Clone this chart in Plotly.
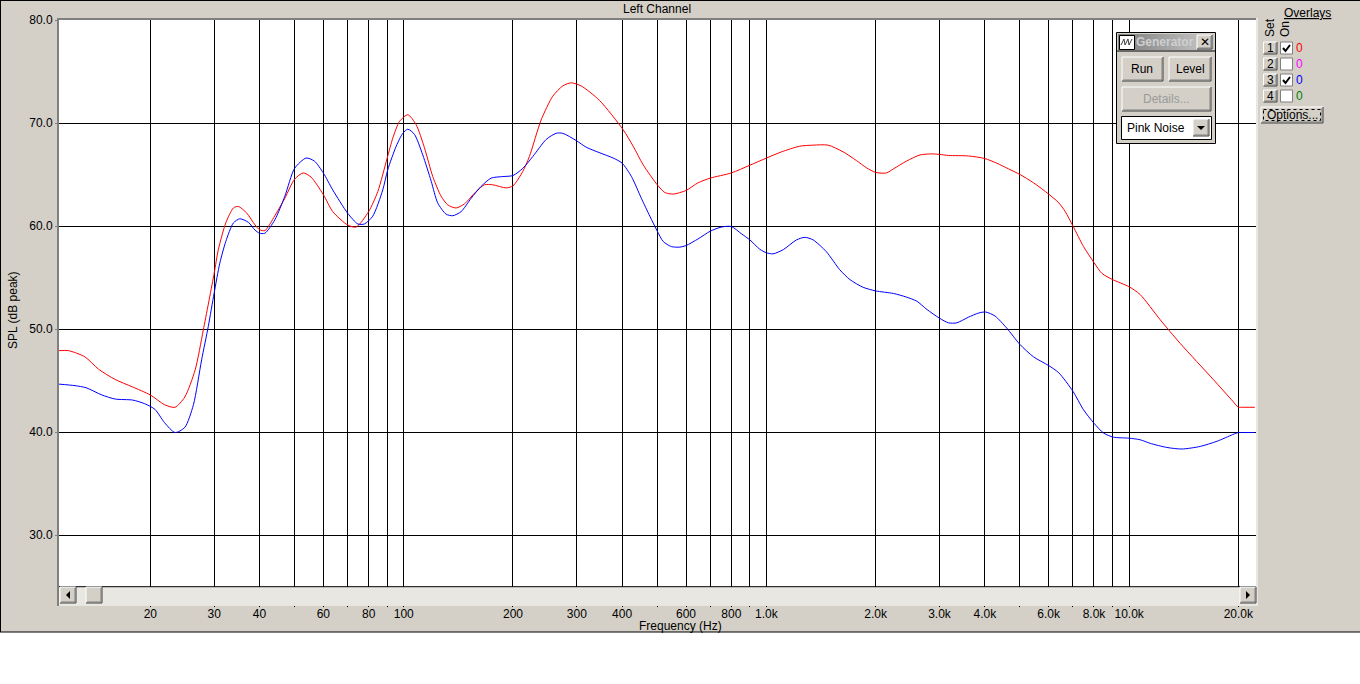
import plotly.graph_objects as go

# values
freq_red = [11.2, 11.9, 13.2, 14.4, 16.0, 17.8, 20, 21.9, 23.4, 24.9, 26.6, 28.0, 30, 30.8, 32.3, 33.9, 35.0, 36.9,
            38.9, 40, 41.4, 44.1, 47.0, 50, 52.8, 55.5, 60, 63.7, 70, 73.9, 80, 84.8, 90, 93.3, 97.3, 102.6, 108.1,
            114, 120.2, 126.7, 132.2, 139.4, 147, 158.3, 166.9, 176, 191.5, 200, 212.9, 222, 239.2, 257.5, 274.4,
            289.4, 308.3, 346.3, 402.5, 428.9, 457, 500, 524.6, 553, 600, 648, 700, 800, 900, 1000, 1100.8, 1236,
            1345, 1479, 1627, 1771, 1887, 2000, 2142, 2240, 2432, 2652, 2857, 3000, 3176, 3606, 4000, 4316, 4648,
            5000, 5448, 6000, 6398, 6664, 7000, 7487, 8000, 8412, 9000, 10000, 10720, 12180, 13830, 17060, 19300,
            20000, 20300, 22200]
spl_red = [47.9, 47.9, 47.3, 46.1, 45.1, 44.4, 43.6, 42.65, 42.4, 43.4, 46.05, 49.9, 55.4, 57.7, 60.3, 61.75, 61.9,
           61.25, 60.1, 59.65, 59.55, 61.0, 62.7, 64.55, 65.15, 64.75, 63.05, 61.4, 60.1, 59.9, 61.4, 63.35, 66.6,
           68.55, 70.15, 70.8, 69.85, 67.6, 64.8, 62.9, 62.05, 61.75, 62.15, 63.35, 64.0, 64.0, 63.7, 63.9, 65.3,
           66.75, 70.3, 72.6, 73.6, 73.9, 73.6, 72.2, 69.35, 67.75, 65.95, 64.0, 63.25, 63.1, 63.45, 64.2, 64.65,
           65.15, 65.9, 66.6, 67.2, 67.75, 67.85, 67.85, 67.2, 66.35, 65.65, 65.2, 65.15, 65.55, 66.3, 66.9, 67.0,
           66.95, 66.85, 66.8, 66.55, 66.1, 65.55, 65.0, 64.2, 63.1, 62.25, 61.4, 60.0, 58.0, 56.45, 55.4, 54.8,
           54.1, 53.35, 50.9, 48.6, 45.1, 43.0, 42.4, 42.4, 42.4]

freq_blue = [11.2, 12.4, 13.3, 14.7, 16.0, 17.9, 19.3, 20.6, 21.9, 23.4, 24.9, 26.3, 27.7, 28.9, 30, 31.1, 32.3,
             33.9, 35.3, 37.3, 38.9, 40, 41.4, 44.1, 47.0, 50, 53.8, 56.7, 60, 63.7, 70, 74.7, 77.9, 82.1, 87.5,
             90.3, 95.3, 99.4, 102.6, 107, 112.8, 119, 124, 130.8, 136.5, 143.9, 153.4, 163.4, 174.1, 187.5, 200,
             212.9, 226.9, 246.9, 263, 274.4, 298.7, 318.4, 347.4, 377.8, 400, 424.4, 451.8, 477, 500, 519, 547, 577,
             600, 648, 700, 751.6, 800, 853, 900, 958, 1000, 1043, 1112, 1210, 1276, 1345, 1463, 1593, 1698, 1847,
             2000, 2240, 2432, 2597, 2769, 3000, 3176, 3348, 3606, 3844, 4023, 4272, 4594, 5000, 5448, 6000, 6398,
             7000, 7487, 8000, 8501, 9046, 10000, 10720, 11430, 12710, 13980, 15700, 17460, 19300, 20000, 20300,
             22200]
spl_blue = [44.65, 44.5, 44.3, 43.6, 43.2, 43.1, 42.75, 42.2, 40.9, 39.95, 40.45, 42.65, 47.0, 50.25, 53.5, 56.4,
            58.5, 60.3, 60.7, 60.35, 59.6, 59.3, 59.3, 60.6, 62.9, 65.6, 66.6, 66.3, 65.15, 63.5, 61.25, 60.2, 60.2,
            60.95, 63.5, 65.45, 67.75, 69.0, 69.4, 68.9, 66.9, 64.35, 62.25, 61.15, 61.0, 61.4, 62.7, 63.85, 64.65,
            64.8, 64.9, 65.6, 66.75, 68.4, 69.0, 69.0, 68.3, 67.65, 67.1, 66.6, 66.1, 64.8, 62.7, 60.95, 59.5, 58.5,
            58.0, 57.95, 58.1, 58.75, 59.5, 59.9, 59.95, 59.25, 58.65, 57.75, 57.4, 57.3, 57.7, 58.65, 58.9, 58.65,
            57.5, 55.75, 54.8, 54.05, 53.7, 53.45, 53.1, 52.7, 51.9, 51.05, 50.6, 50.6, 51.15, 51.55, 51.65, 51.25,
            50.1, 48.5, 47.3, 46.45, 45.75, 43.95, 42.15, 40.85, 39.9, 39.5, 39.4, 39.25, 38.9, 38.5, 38.35, 38.6,
            39.1, 39.75, 39.95, 39.95, 39.95]
assert len(freq_red) == len(spl_red) and len(freq_blue) == len(spl_blue)

x_ticks = [20, 30, 40, 50, 60, 70, 80, 90, 100, 200, 300, 400, 500, 600, 700, 800, 900, 1000, 2000, 3000, 4000, 5000,
           6000, 7000, 8000, 9000, 10000, 20000]
x_labels = ['20', '30', '40', '', '60', '', '80', '', '100', '200', '300', '400', '', '600', '', '800', '', '1.0k',
            '2.0k', '3.0k', '4.0k', '', '6.0k', '', '8.0k', '', '10.0k', '20.0k']
y_ticks = [30, 40, 50, 60, 70, 80]
y_labels = ['30.0', '40.0', '50.0', '60.0', '70.0', '80.0']
overlay_colors = ['#ff0000', '#ff00ff', '#0000ff', '#008000']
overlay_on = [True, False, True, False]

W, H = 1360, 684
L, R, T, B = 59, 1256, 20, 603
FACE = '#d4d0c8'
FONT = 'Liberation Sans'


def px(x):
    return (x - L) / (R - L)


def py(y):
    return 1 - (y - T) / (B - T)


shapes = []
annotations = []


def rect(x0, y0, x1, y1, fill, line=None, width=1, dash=None):
    shapes.append(dict(type='rect', xref='paper', yref='paper', x0=px(x0), x1=px(x1), y0=py(y0), y1=py(y1),
                       fillcolor=fill, line=dict(color=line or fill, width=width if line else 0, dash=dash)))


def seg(x0, y0, x1, y1, color='black', width=1):
    shapes.append(dict(type='line', xref='paper', yref='paper', x0=px(x0), x1=px(x1), y0=py(y0), y1=py(y1),
                       line=dict(color=color, width=width)))


def label(x, y, text, color='black', size=12, angle=0, anchor='center', bold=False):
    annotations.append(dict(xref='paper', yref='paper', x=px(x), y=py(y), text=f'<b>{text}</b>' if bold else text,
                            showarrow=False, xanchor=anchor, yanchor='middle', textangle=angle,
                            font=dict(family=FONT, size=size, color=color)))


def button(x0, y0, x1, y1):
    rect(x0, y0, x1, y1, FACE)
    seg(x0, y0, x1, y0, 'white')
    seg(x0, y0, x0, y1, 'white')
    seg(x0, y1, x1, y1, '#404040')
    seg(x1, y0, x1, y1, '#404040')
    seg(x0 + 1, y1 - 1, x1 - 1, y1 - 1, '#808080')
    seg(x1 - 1, y0 + 1, x1 - 1, y1 - 1, '#808080')


# panel edges
rect(57, 18, 59, 606, '#808080')
rect(57, 18, 1256, 20, '#808080')
rect(1256, 18, 1258, 606, '#e9e7e2')
rect(59, 603, 1258, 606, '#e9e7e2')

# scroll bar
rect(59, 587, 1256, 603, '#e9e7e2')
seg(59, 586.7, 1256, 586.7)
button(60, 587, 76, 603)
button(86, 587, 102, 603)
button(1240, 587, 1256, 603)
shapes.append(dict(type='path', xref='paper', yref='paper', fillcolor='black', line=dict(width=0),
                   path=f'M {px(70)} {py(591)} L {px(66)} {py(595)} L {px(70)} {py(599)} Z'))
shapes.append(dict(type='path', xref='paper', yref='paper', fillcolor='black', line=dict(width=0),
                   path=f'M {px(1246)} {py(591)} L {px(1250)} {py(595)} L {px(1246)} {py(599)} Z'))

# generator window
rect(1116.5, 32.5, 1215.5, 143.5, FACE, 'black')
seg(1117, 51, 1215, 51)
for i in range(32):
    g = int(128 + 72 * i / 31)
    rect(1118 + i * 3, 34, 1121 + i * 3, 50, f'rgb({g},{g},{g})')
rect(1119.5, 35.5, 1134.5, 49.5, 'white', 'black')
shapes.append(dict(type='path', xref='paper', yref='paper', line=dict(color='#404040', width=1),
                   path=f'M {px(1121)} {py(45)} L {px(1124)} {py(39)} L {px(1125)} {py(45)} L {px(1128)} {py(39)} '
                        f'L {px(1129)} {py(45)} L {px(1132)} {py(39)}'))
label(1165, 42, 'Generator', '#cfcfcf', 12, bold=True)
button(1197, 35, 1212, 49)
label(1205, 42, '✕', 'black', 12)
button(1122, 57, 1163, 81)
label(1142, 69, 'Run')
button(1169, 57, 1211, 81)
label(1190, 69, 'Level')
button(1122, 87, 1211, 111)
label(1166, 99, 'Details...', '#9a9a9a')
rect(1121.5, 116.5, 1211.5, 139.5, 'white', 'black')
label(1125, 128, 'Pink Noise', anchor='left')
button(1193, 119, 1209, 136)
shapes.append(dict(type='path', xref='paper', yref='paper', fillcolor='black', line=dict(width=0),
                   path=f'M {px(1197)} {py(126)} L {px(1205)} {py(126)} L {px(1201)} {py(130)} Z'))

# overlay column
label(1307, 13, '<u>Overlays</u>')
label(1270, 28, 'Set', angle=-90)
label(1285, 29, 'On', angle=-90)
for i, on in enumerate(overlay_on):
    top = 42 + 16 * i
    button(1263.5, top, 1277, top + 12)
    label(1270, top + 6, str(i + 1), size=12)
    rect(1280.5, top, 1292.5, top + 12, 'white', '#808080')
    if on:
        shapes.append(dict(type='path', xref='paper', yref='paper', line=dict(color='black', width=2),
                           path=f'M {px(1283)} {py(top + 6)} L {px(1285.5)} {py(top + 9)} L {px(1290)} {py(top + 3)}'))
    label(1299.5, top + 6, '0', overlay_colors[i])
button(1261, 107, 1323, 123)
rect(1263.5, 109.5, 1320.5, 120.5, FACE, 'black', 1, 'dot')
label(1292, 115, 'Options...')

# texts outside the axes
label(657, 9, 'Left Channel')
label(680, 625.5, 'Frequency (Hz)')
label(13, 310, 'SPL (dB peak)', angle=-90)

# white below the program window
rect(0, 632, W, H, 'white')
seg(0, 632, W, 632)
seg(0.5, 0, 0.5, 632)
seg(0, 0.5, W, 0.5)

fig = go.Figure()
fig.add_trace(go.Scatter(x=freq_red, y=spl_red, mode='lines', hoverinfo='skip',
                         line=dict(color='#ff0000', width=1, shape='spline', smoothing=0.7)))
fig.add_trace(go.Scatter(x=freq_blue, y=spl_blue, mode='lines', hoverinfo='skip',
                         line=dict(color='#0000ff', width=1, shape='spline', smoothing=0.7)))

fig.update_layout(
    width=W, height=H, showlegend=False,
    margin=dict(l=L, r=W - R, t=T, b=H - B, pad=0),
    paper_bgcolor=FACE, plot_bgcolor='white',
    font=dict(family=FONT, size=12, color='black'),
    shapes=shapes, annotations=annotations,
    xaxis=dict(type='log', range=[1.0493, 4.3498], tickmode='array', tickvals=x_ticks, ticktext=x_labels,
               showgrid=True, gridcolor='black', gridwidth=1, zeroline=False, ticks='outside', ticklen=3,
               tickcolor='black', tickwidth=1, tickangle=0, showline=False, automargin=False, ticklabelstandoff=-3),
    yaxis=dict(range=[23.4, 80], tickmode='array', tickvals=y_ticks, ticktext=y_labels,
               showgrid=True, gridcolor='black', gridwidth=1, zeroline=False, ticks='outside', ticklen=3,
               tickcolor='#808080', tickwidth=1, showline=False, automargin=False),
)

# page margin off, the window starts in the corner of the page
fig.write_html("out.html", config=dict(displayModeBar=False), post_script="document.body.style.margin = '0';")
